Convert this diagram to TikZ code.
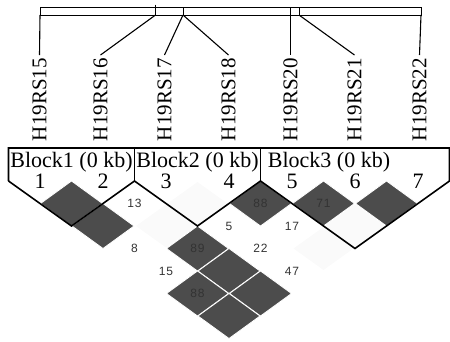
\documentclass[tikz,border=0pt]{standalone}
\usepackage{fontspec}
\setmainfont{Liberation Serif}
\newfontfamily\ldfont[LetterSpace=8]{Liberation Sans}
\usetikzlibrary{arrows.meta}

\tikzset{
  ldbox/.style={fill=black!70, draw=white, line width=0.8pt},
  ldlight/.style={fill=black!2},
  ldnum/.style={font=\ldfont\fontsize{12}{12}\selectfont, text=black!80, inner sep=0pt},
  snp/.style={rotate=90, anchor=east, font=\fontsize{21}{21}\selectfont, inner sep=0pt, inner xsep=3pt},
  blockline/.style={line width=1.6pt, line join=miter},
  blocktext/.style={font=\fontsize{22}{22}\selectfont, inner sep=0pt, anchor=base},
}

\begin{document}
\begin{tikzpicture}[x=1pt, y=-1pt]
        \useasboundingbox (0,0) rectangle (450,341);

        % Draw chromosome bar
        \draw[line width=0.9pt] (40,7.5) rectangle (421,15);
        \draw[line width=0.9pt] (155.5,4.5) -- (155.5,15);
        \foreach \x in {183,290.5,299}
            \draw[line width=0.9pt] (\x,7.5) -- (\x,15);
        \coordinate (b1) at (40,15);
        \coordinate (b2) at (155.5,15);
        \coordinate (b3) at (183,15);
        \coordinate (b5) at (290.5,15);
        \coordinate (b6) at (299,15);
        \coordinate (b7) at (421,15);

        % Draw marker names
        \foreach \k/\x/\name in {1/39.5/H19RS15, 2/100.5/H19RS16, 3/164.5/H19RS17,
                                  4/228.5/H19RS18, 5/290.5/H19RS20, 6/354.5/H19RS21, 7/419.5/H19RS22}
            \node[snp] (m\k) at (\x,55) {\name};
        \draw[line width=1.1pt] (b1) -- (m1.east);
        \draw[line width=1.1pt] (b2) -- (m2.east);
        \draw[line width=1.1pt] (b3) -- (m3.east);
        \draw[line width=1.1pt] (b3) -- (m4.east);
        \draw[line width=1.1pt] (b5) -- (m5.east);
        \draw[line width=1.1pt] (b6) -- (m6.east);
        \draw[line width=1.1pt] (b7) -- (m7.east);

        % Draw LD diamonds
        \foreach \i/\j in {3/4,2/4,5/7,4/7} {
            \pgfmathsetmacro\cx{40+31.5*(\i+\j-2)}
            \pgfmathsetmacro\cy{203.5+22.5*(\j-\i-1)}
            \fill[ldlight] (\cx,\cy) +(-30,0) -- +(0,-21.5) -- +(30,0) -- +(0,21.5) -- cycle;
        }
        \foreach \i/\j in {1/2,1/3,4/5,5/6,6/7,2/5,2/6,1/6,2/7,1/7} {
            \pgfmathsetmacro\cx{40+31.5*(\i+\j-2)}
            \pgfmathsetmacro\cy{203.5+22.5*(\j-\i-1)}
            \filldraw[ldbox] (\cx,\cy) +(-31,0) -- +(0,-22.5) -- +(31,0) -- +(0,22.5) -- cycle;
        }
        \foreach \i/\j/\v in {2/3/13, 4/5/88, 5/6/71, 3/5/5, 4/6/17, 1/4/8,
                              2/5/89, 3/6/22, 1/5/15, 1/6/88, 3/7/47} {
            \pgfmathsetmacro\cx{40+31.5*(\i+\j-2)}
            \pgfmathsetmacro\cy{203.5+22.5*(\j-\i-1)}
            \node[ldnum] (v\i\j) at (\cx,\cy) {\v};
        }

        % Draw haplotype blocks
        \draw[blockline] (8.5,181) -- (8.5,148) -- (449.5,148) -- (449.5,181) -- (355,248.5) -- (260.5,181);
        \draw[blockline] (8.5,181) -- (71.5,226) -- (134.5,181) -- (197.5,226) -- (260.5,181);
        \draw[blockline] (134.5,148) -- (134.5,181);
        \draw[blockline] (260.5,148) -- (260.5,181);
        \node[blocktext] (blk1) at (71.5,167) {Block1 (0 kb)};
        \node[blocktext] (blk2) at (197.5,167) {Block2 (0 kb)};
        \node[blocktext] (blk3) at (329,167) {Block3 (0 kb)};
        \foreach \k in {1,...,7}
            \node[blocktext] (n\k) at (40+63*\k-63,188) {\k};
    \end{tikzpicture}
\end{document}
